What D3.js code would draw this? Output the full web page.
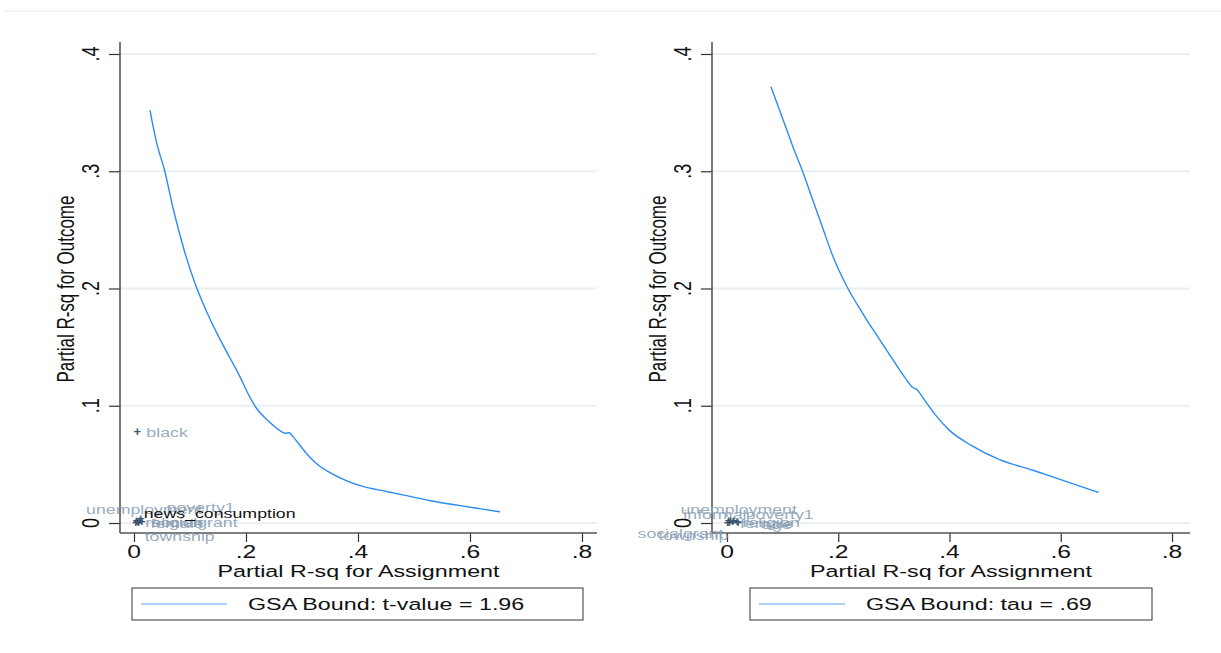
<!DOCTYPE html>
<html>
<head>
<meta charset="utf-8">
<script src="https://cdn.jsdelivr.net/npm/d3@7"></script>
<style>
  body { margin: 0; background: #fff; }
  svg text { font-family: "Liberation Sans", Arial, sans-serif; }
</style>
</head>
<body>
<svg id="chart" width="1221" height="653"></svg>
<script>
// ticks shared by both panels
var xTicks = [0, 0.2, 0.4, 0.6, 0.8];
var yTicks = [0, 0.1, 0.2, 0.3, 0.4];

// GSA bound, t-value = 1.96
var boundTX = [0.0286, 0.04, 0.055, 0.07, 0.09, 0.11, 0.13, 0.15, 0.17, 0.19, 0.205, 0.22, 0.24, 0.26, 0.27, 0.277, 0.285, 0.30, 0.314, 0.33, 0.35, 0.38, 0.41, 0.45, 0.48, 0.53, 0.58, 0.62, 0.654];
var boundTY = [0.352, 0.325, 0.300, 0.268, 0.232, 0.203, 0.180, 0.160, 0.142, 0.124, 0.109, 0.097, 0.087, 0.079, 0.0765, 0.077, 0.073, 0.064, 0.056, 0.049, 0.043, 0.036, 0.031, 0.027, 0.024, 0.019, 0.015, 0.012, 0.0095];

// GSA bound, tau = .69
var boundTauX = [0.079, 0.10, 0.12, 0.135, 0.15, 0.171, 0.19, 0.2175, 0.245, 0.275, 0.30, 0.32, 0.333, 0.342, 0.355, 0.375, 0.40, 0.44, 0.49, 0.55, 0.60, 0.668];
var boundTauY = [0.372, 0.345, 0.319, 0.301, 0.281, 0.253, 0.228, 0.200, 0.178, 0.156, 0.138, 0.124, 0.116, 0.1135, 0.105, 0.092, 0.079, 0.066, 0.054, 0.045, 0.037, 0.026];

// covariate benchmarks, left panel
var covTNames = ["black", "unemployment", "poverty1", "religion", "socialgrant", "female", "township", "news_consumption"];
var covTX = [0.006, 0.004, 0.010, 0.006, 0.014, 0.008, 0.003, 0.012];
var covTY = [0.078, 0.002, 0.002, 0.001, 0.001, 0.000, 0.000, 0.003];

// covariate benchmarks, right panel
var covTauNames = ["unemployment", "informal", "poverty1", "female", "religion", "age", "socialgrant", "township"];
var covTauX = [0.003, 0.006, 0.012, 0.018, 0.010, 0.020, 0.001, 0.004];
var covTauY = [0.002, 0.002, 0.002, 0.001, 0.001, 0.000, 0.000, 0.000];

var legendT = "GSA Bound: t-value = 1.96";
var legendTau = "GSA Bound: tau = .69";

// the original graph was exported with wide text
var STRETCH = 1.37;
var LABEL_STRETCH = 1.42;

var svg = d3.select('#chart');

// faint rule at the top of the page
svg.append('line')
  .attr('x1', 4).attr('x2', 1221).attr('y1', 11).attr('y2', 11)
  .attr('stroke', '#e6ecee').attr('stroke-width', 1);

var fmt = function(d){
  return d === 0 ? '0' : d3.format('.1f')(d).replace(/^0/, '');
};

// text placed at x,y and stretched horizontally on screen
function wideText(sel, x, y, rot, s){
  return sel.append('text')
    .attr('transform', 'translate(' + x + ',' + y + ') scale(' + (s || STRETCH) + ',1)' + (rot ? ' rotate(' + rot + ')' : ''));
}

function drawPanel(opt){

  var x = d3.scaleLinear().domain([0, 0.8]).range([opt.x0, opt.x8]);
  var y = d3.scaleLinear().domain([0, 0.4]).range([523, 54]);
  var g = svg.append('g');

  // gridlines
  g.selectAll('.grid').data(yTicks).enter()
    .append('line')
      .attr('x1', opt.axisX).attr('x2', opt.right)
      .attr('y1', function(d){ return y(d); })
      .attr('y2', function(d){ return y(d); })
      .attr('stroke', '#eaf0f2').attr('stroke-width', 2);

  // y axis ticks + rotated labels
  var yAx = g.append('g')
    .attr('transform', 'translate(' + opt.axisX + ',0)')
    .call(d3.axisLeft(y).tickValues(yTicks).tickSize(11).tickFormat(''));
  yAx.select('.domain').remove();
  yAx.selectAll('.tick line').attr('stroke', '#333').attr('stroke-width', 1.2);

  yTicks.forEach(function(d){
    wideText(g, opt.axisX - 21, y(d), -90)
      .attr('text-anchor', 'middle')
      .attr('font-size', 18).attr('fill', '#111')
      .text(fmt(d));
  });

  // x axis ticks + labels
  var xAx = g.append('g')
    .attr('transform', 'translate(0,533)')
    .call(d3.axisBottom(x).tickValues(xTicks).tickSize(9).tickFormat(''));
  xAx.select('.domain').remove();
  xAx.selectAll('.tick line').attr('stroke', '#333').attr('stroke-width', 1.2);

  xTicks.forEach(function(d){
    wideText(g, x(d), 558)
      .attr('text-anchor', 'middle')
      .attr('font-size', 18).attr('fill', '#111')
      .text(fmt(d));
  });

  // axis lines
  g.append('line')
    .attr('x1', opt.axisX).attr('x2', opt.axisX).attr('y1', 42).attr('y2', 533)
    .attr('stroke', '#555').attr('stroke-width', 1.6);
  g.append('line')
    .attr('x1', opt.axisX).attr('x2', opt.right).attr('y1', 533).attr('y2', 533)
    .attr('stroke', '#555').attr('stroke-width', 1.6);

  // axis titles
  wideText(g, opt.axisX - 46, 289, -90)
    .attr('text-anchor', 'middle').attr('font-size', 17).attr('fill', '#111')
    .text('Partial R-sq for Outcome');
  wideText(g, (opt.axisX + opt.right) / 2, 577)
    .attr('text-anchor', 'middle').attr('font-size', 17).attr('fill', '#111')
    .text('Partial R-sq for Assignment');

  // bound curve
  var pts = opt.bx.map(function(v, i){ return [v, opt.by[i]]; });
  g.append('path')
    .datum(pts)
    .attr('d', d3.line().x(function(d){ return x(d[0]); }).y(function(d){ return y(d[1]); }).curve(d3.curveMonotoneX))
    .attr('fill', 'none').attr('stroke', '#2a8cf3').attr('stroke-width', 1.4);

  // covariate labels
  opt.names.forEach(function(n, i){
    var p = opt.place[n];
    wideText(g, x(opt.cx[i]) + p[0], y(opt.cy[i]) + p[1], 0, LABEL_STRETCH)
      .attr('text-anchor', p[2])
      .attr('font-size', 12.5)
      .attr('fill', n === 'news_consumption' ? '#111' : '#8b9fb5')
      .attr('fill-opacity', n === 'news_consumption' ? 1 : 0.9)
      .text(n);
  });

  // covariate markers
  opt.names.forEach(function(n, i){
    g.append('text')
      .attr('x', x(opt.cx[i])).attr('y', y(opt.cy[i]) + 4)
      .attr('text-anchor', 'middle')
      .attr('font-size', 13).attr('font-weight', 'bold')
      .attr('fill', '#3a5670')
      .text('+');
  });

  // legend
  var lg = g.append('g');
  lg.append('rect')
    .attr('x', opt.legX).attr('y', 588).attr('width', opt.legW).attr('height', 32)
    .attr('fill', '#fff').attr('stroke', '#333').attr('stroke-width', 1);
  lg.append('line')
    .attr('x1', opt.legX + 9).attr('x2', opt.legX + 95).attr('y1', 604).attr('y2', 604)
    .attr('stroke', '#8cc2f4').attr('stroke-width', 1.6);
  wideText(lg, opt.legX + 116, 610)
    .attr('font-size', 17).attr('fill', '#111')
    .text(opt.legend);
}

drawPanel({
  axisX: 120, right: 597, x0: 134, x8: 582,
  bx: boundTX, by: boundTY,
  names: covTNames, cx: covTX, cy: covTY,
  place: {
    black: [9, 5, 'start'],
    unemployment: [8, -7, 'middle'],
    poverty1: [27, -9, 'start'],
    news_consumption: [3, -1, 'start'],
    religion: [8, 5, 'start'],
    socialgrant: [10, 5, 'start'],
    female: [12, 5, 'start'],
    township: [9, 18, 'start']
  },
  legX: 132, legW: 451, legend: legendT
});

drawPanel({
  axisX: 712, right: 1190, x0: 727, x8: 1172,
  bx: boundTauX, by: boundTauY,
  names: covTauNames, cx: covTauX, cy: covTauY,
  place: {
    unemployment: [10, -7, 'middle'],
    informal: [-47, -2, 'start'],
    poverty1: [12, -2, 'start'],
    female: [3, 6, 'start'],
    religion: [10, 5, 'start'],
    age: [24, 6, 'start'],
    socialgrant: [-90, 15, 'start'],
    township: [-71, 17, 'start']
  },
  legX: 750, legW: 402, legend: legendTau
});
</script>
</body>
</html>
